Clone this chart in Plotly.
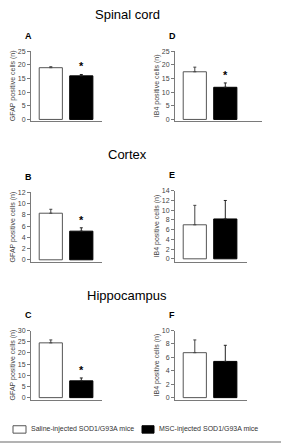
import plotly.graph_objects as go

# ---------------- data ----------------
regions = ["Spinal cord", "Cortex", "Hippocampus"]
groups = ["Saline-injected SOD1/G93A mice", "MSC-injected SOD1/G93A mice"]
gfap_labels = ["A", "B", "C"]
ib4_labels = ["D", "E", "F"]

gfap_saline = [19.0, 8.3, 24.5]
gfap_saline_err = [0.35, 0.7, 1.3]
gfap_msc = [16.0, 5.1, 7.5]
gfap_msc_err = [0.5, 0.6, 1.3]
gfap_sig = [True, True, True]
gfap_ymax = [25, 12, 30]
gfap_dtick = [5, 2, 5]

ib4_saline = [17.5, 7.0, 6.7]
ib4_saline_err = [1.7, 4.0, 1.9]
ib4_msc = [11.8, 8.2, 5.4]
ib4_msc_err = [1.6, 3.8, 2.4]
ib4_sig = [True, False, False]
ib4_ymax = [25, 14, 10]
ib4_dtick = [5, 2, 2]

gfap_title = "GFAP positive cells (n)"
ib4_title = "IB4 positive cells (n)"

# ---------------- layout helpers ----------------
W, H = 281, 446
FONT = "Liberation Sans, Arial, sans-serif"
TXT = "#333333"
AX = "#7a7a7a"

def px_x(p):
    return p / W

def px_y(p):
    return 1 - p / H

fig = go.Figure()
layout = dict(
    width=W, height=H, margin=dict(l=0, r=0, t=0, b=0),
    paper_bgcolor="white", plot_bgcolor="white", showlegend=False,
    font=dict(family=FONT, color=TXT),
)
annotations = []
shapes = []

# pixel geometry per panel: (x_left, x_right, y_top, y_zero, y_base)
left_geo = [(31, 102, 48, 117, 118.5), (31, 102, 191, 259.3, 262), (31, 102, 331, 399, 401.7)]
right_geo = [(175, 262, 48, 117, 118.5), (175, 247, 189.3, 258.3, 261.5), (175, 247, 331, 399, 401.7)]
c0_off = 19.8   # px from axis to first bar center
spacing = 30.5  # px between bar centers

panels = []
for i in range(3):
    panels.append(dict(geo=left_geo[i], sal=gfap_saline[i], sal_e=gfap_saline_err[i],
                       msc=gfap_msc[i], msc_e=gfap_msc_err[i], sig=gfap_sig[i],
                       ymax=gfap_ymax[i], dtick=gfap_dtick[i], label=gfap_labels[i],
                       title=gfap_title))
for i in range(3):
    panels.append(dict(geo=right_geo[i], sal=ib4_saline[i], sal_e=ib4_saline_err[i],
                       msc=ib4_msc[i], msc_e=ib4_msc_err[i], sig=ib4_sig[i],
                       ymax=ib4_ymax[i], dtick=ib4_dtick[i], label=ib4_labels[i],
                       title=ib4_title))

for k, p in enumerate(panels):
    n = k + 1
    xa = "x" if n == 1 else f"x{n}"
    ya = "y" if n == 1 else f"y{n}"
    xl, xr, yt, y0, yb = p["geo"]
    xmin = -c0_off / spacing
    xmax = (xr - xl - c0_off) / spacing
    ymin = -(yb - y0) * p["ymax"] / (y0 - yt)

    fig.add_trace(go.Bar(
        x=[0], y=[p["sal"]], width=[0.76], xaxis=xa, yaxis=ya,
        marker=dict(color="white", line=dict(color="#555555", width=1)),
        error_y=dict(type="data", symmetric=False, array=[p["sal_e"]], arrayminus=[0],
                     color="#444444", thickness=1, width=1.5),
    ))
    fig.add_trace(go.Bar(
        x=[1], y=[p["msc"]], width=[0.76], xaxis=xa, yaxis=ya,
        marker=dict(color="black", line=dict(color="black", width=1)),
        error_y=dict(type="data", symmetric=False, array=[p["msc_e"]], arrayminus=[0],
                     color="#222222", thickness=1, width=1.5),
    ))
    xkey = "xaxis" if n == 1 else f"xaxis{n}"
    ykey = "yaxis" if n == 1 else f"yaxis{n}"
    layout[xkey] = dict(
        domain=[px_x(xl), px_x(xr)], range=[xmin, xmax], anchor=ya,
        showticklabels=False, ticks="", showgrid=False, zeroline=False,
        showline=True, linecolor=AX, linewidth=1, fixedrange=True,
    )
    layout[ykey] = dict(
        domain=[px_y(yb), px_y(yt)], range=[ymin, p["ymax"]], anchor=xa,
        tick0=0, dtick=p["dtick"], ticks="outside", ticklen=3, tickcolor=AX,
        tickfont=dict(size=7, color="#444444", family=FONT),
        showgrid=False, zeroline=False, showline=True, linecolor=AX, linewidth=1,
        fixedrange=True,
    )
    # star
    if p["sig"]:
        annotations.append(dict(
            x=1, y=p["msc"] + p["msc_e"], xref=xa, yref=ya, text="<b>*</b>",
            showarrow=False, yanchor="bottom", yshift=0,
            font=dict(size=11, color="black", family=FONT),
        ))
    # panel label
    annotations.append(dict(
        x=px_x(xl - 8), y=px_y(yt - 16), xref="paper", yref="paper",
        text=f"<b>{p['label']}</b>", showarrow=False, xanchor="left", yanchor="middle",
        font=dict(size=9, color="black", family=FONT),
    ))
    # y axis title
    annotations.append(dict(
        x=px_x(xl - 18), y=px_y((yt + yb) / 2), xref="paper", yref="paper",
        text=p["title"], showarrow=False, textangle=-90,
        xanchor="center", yanchor="middle",
        font=dict(size=7, color="#444444", family=FONT),
    ))

# region titles
title_y = [11, 153, 295]
for r, ty in zip(regions, title_y):
    annotations.append(dict(
        x=px_x(127), y=px_y(ty), xref="paper", yref="paper", text=r,
        showarrow=False, xanchor="center", yanchor="middle",
        font=dict(size=13, color="black", family=FONT),
    ))

# legend
leg_y = 431
shapes.append(dict(type="rect", xref="paper", yref="paper",
                   x0=px_x(13), x1=px_x(26), y0=px_y(435), y1=px_y(427.5),
                   line=dict(color="#555555", width=1), fillcolor="white"))
shapes.append(dict(type="rect", xref="paper", yref="paper",
                   x0=px_x(142), x1=px_x(154), y0=px_y(435), y1=px_y(427.5),
                   line=dict(color="black", width=1), fillcolor="black"))
annotations.append(dict(x=px_x(28.5), y=px_y(leg_y), xref="paper", yref="paper",
                        text=groups[0], showarrow=False, xanchor="left", yanchor="middle",
                        font=dict(size=7, color="#333333", family=FONT)))
annotations.append(dict(x=px_x(157), y=px_y(leg_y), xref="paper", yref="paper",
                        text=groups[1], showarrow=False, xanchor="left", yanchor="middle",
                        font=dict(size=7, color="#333333", family=FONT)))
# bottom rule
shapes.append(dict(type="line", xref="paper", yref="paper",
                   x0=0, x1=1, y0=px_y(444), y1=px_y(444),
                   line=dict(color="#9a9a9a", width=1.5)))

layout["annotations"] = annotations
layout["shapes"] = shapes
fig.update_layout(**layout)
fig.write_html("out.html")
